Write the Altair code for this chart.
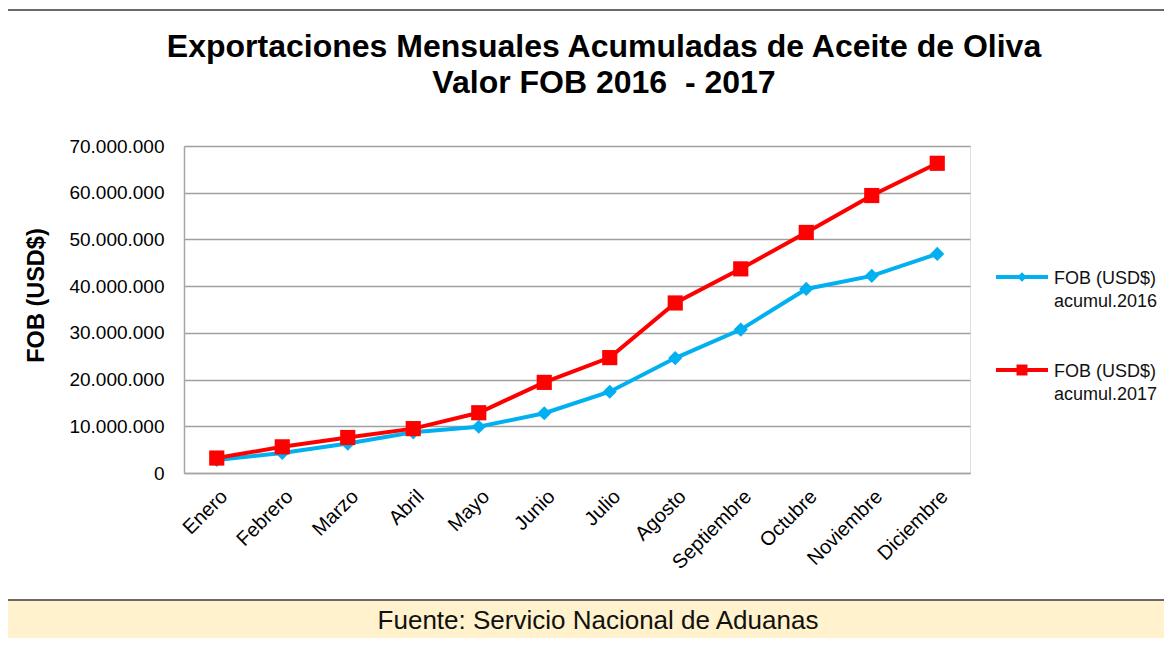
import altair as alt
import pandas as pd

months = ["Enero", "Febrero", "Marzo", "Abril", "Mayo", "Junio", "Julio",
          "Agosto", "Septiembre", "Octubre", "Noviembre", "Diciembre"]
fob_2016 = [2800000, 4300000, 6300000, 8700000, 9900000, 12800000, 17400000,
            24600000, 30700000, 39400000, 42200000, 46900000]
fob_2017 = [3200000, 5600000, 7600000, 9500000, 12900000, 19400000, 24700000,
            36400000, 43700000, 51500000, 59400000, 66300000]
series_names = ["FOB (USD$) acumul.2016", "FOB (USD$) acumul.2017"]
legend_lines = [["FOB (USD$)", "acumul.2016"], ["FOB (USD$)", "acumul.2017"]]
colors = ["#00B0F0", "#FF0000"]
shapes = ["diamond", "square"]
y_ticks = [0, 10000000, 20000000, 30000000, 40000000, 50000000, 60000000, 70000000]
title_lines = ["Exportaciones Mensuales Acumuladas de Aceite de Oliva", "Valor FOB 2016\u00a0 - 2017"]
y_title = "FOB (USD$)"
source_text = "Fuente: Servicio Nacional de Aduanas"

rows = []
for name, vals in zip(series_names, [fob_2016, fob_2017]):
    for m, v in zip(months, vals):
        rows.append({"mes": m, "valor": v, "serie": name})
df = pd.DataFrame(rows)
one = pd.DataFrame({"k": [0]})

W, H = 786, 327
TOTAL_W, TOTAL_H = 1156, 630
FONT = "Liberation Sans"

x_enc = alt.X("mes:N", sort=months, scale=alt.Scale(type="point", padding=0.5),
              axis=alt.Axis(title=None, labelAngle=-45, labelFontSize=20, labelFont=FONT,
                            labelColor="#000000", labelPadding=13, ticks=False,
                            domainColor="#A6A6A6", domainWidth=1.5, grid=False))
y_enc = alt.Y("valor:Q", scale=alt.Scale(domain=[0, 70000000], nice=False),
              axis=alt.Axis(values=y_ticks, title=y_title, titleFont=FONT, titleFontSize=23.5,
                            titleFontWeight="bold", titleColor="#000000", titleX=-148, titleY=149,
                            titleAngle=270, titleBaseline="middle", titleAlign="center",
                            labelExpr="replace(format(datum.value, ','), /,/g, '.')",
                            labelFont=FONT, labelFontSize=19, labelColor="#000000",
                            labelPadding=20, ticks=False, domainColor="#A6A6A6",
                            domainWidth=1.5, gridColor="#A0A0A0", gridWidth=1.4))
color_enc = alt.Color("serie:N", scale=alt.Scale(domain=series_names, range=colors), legend=None)

frame = alt.Chart(one).mark_rect(fill="white", fillOpacity=0, stroke="#3A3A3A", strokeWidth=1.5).encode(
    x=alt.value(-177), x2=alt.value(1010), y=alt.value(-136), y2=alt.value(520))
footer = alt.Chart(one).mark_rect(fill="#FFF2CC", stroke="#3A3A3A", strokeWidth=1.5).encode(
    x=alt.value(-177), x2=alt.value(1010), y=alt.value(454), y2=alt.value(520))
footer_text = alt.Chart(one).mark_text(text=source_text, font=FONT,
                                        fontSize=26, color="#111111", align="center",
                                        baseline="middle").encode(
    x=alt.value(414), y=alt.value(475))
title1 = alt.Chart(one).mark_text(text=title_lines[0], font=FONT, fontSize=32, fontWeight="bold",
                                  color="#000000", align="center", baseline="alphabetic").encode(
    x=alt.value(420), y=alt.value(-89))
title2 = alt.Chart(one).mark_text(text=title_lines[1], font=FONT, fontSize=32, fontWeight="bold",
                                  color="#000000", align="center", baseline="alphabetic").encode(
    x=alt.value(420), y=alt.value(-53))

lines = alt.Chart(df).mark_line(strokeWidth=4).encode(x=x_enc, y=y_enc, color=color_enc)
points = alt.Chart(df).mark_point(filled=True, opacity=1).encode(
    x=x_enc, y=y_enc, color=color_enc,
    shape=alt.Shape("serie:N", scale=alt.Scale(domain=series_names, range=shapes), legend=None),
    size=alt.Size("serie:N", scale=alt.Scale(domain=series_names, range=[200, 230]), legend=None))

legend_layers = []
for i, (lbl, c, s) in enumerate(zip(legend_lines, colors, shapes)):
    yy = 131 + i * 93
    legend_layers.append(alt.Chart(one).mark_rule(color=c, strokeWidth=4).encode(
        x=alt.value(812), x2=alt.value(864), y=alt.value(yy)))
    legend_layers.append(alt.Chart(one).mark_point(filled=True, opacity=1, color=c, shape=s,
                                                   size=90 if s == "diamond" else 120).encode(
        x=alt.value(838), y=alt.value(yy)))
    legend_layers.append(alt.Chart(one).mark_text(text=lbl, font=FONT, fontSize=18, color="#111111",
                                                  align="left", baseline="alphabetic",
                                                  lineHeight=23).encode(
        x=alt.value(870), y=alt.value(yy + 7)))

chart = alt.layer(frame, footer, footer_text, title1, title2, lines, points, *legend_layers).properties(
    width=W, height=H,
    autosize=alt.AutoSizeParams(type="none"),
    padding={"left": 176, "top": 138, "right": TOTAL_W - 176 - W, "bottom": TOTAL_H - 138 - H},
).configure_view(stroke=None).configure(background="white")

chart.save("out.html", embed_options={"renderer": "svg", "actions": False})
